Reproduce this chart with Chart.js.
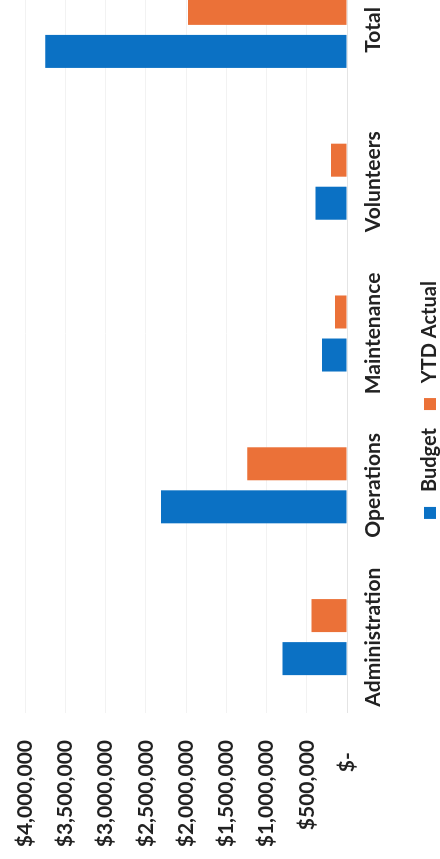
<!DOCTYPE html>
<html lang="en">
<head>
<meta charset="UTF-8">
<title>Budget vs YTD Actual</title>
<script src="https://cdn.jsdelivr.net/npm/chart.js@4.4.0/dist/chart.umd.min.js"></script>
<style>
    * {
        margin: 0;
        padding: 0;
        box-sizing: border-box;
    }

    html, body {
        width: 440px;
        height: 859px;
        overflow: hidden;
        background: #ffffff;
    }

    /* chart is laid out landscape, then turned a quarter counter-clockwise */
    .chart-wrap {
        position: absolute;
        left: 0;
        top: 0;
        width: 918px;
        height: 450px;
        transform-origin: 0 0;
        transform: translateY(859px) rotate(-90deg);
    }
</style>
</head>
<body>
<div class="chart-wrap">
    <canvas id="budgetChart" width="918" height="450"></canvas>
</div>

<script>
    const categories = ['Administration', 'Operations', 'Maintenance', 'Volunteers', 'Total'];
    const budget = [800000, 2310000, 310000, 390000, 3750000];
    const ytdActual = [440000, 1240000, 150000, 200000, 1975000];

    const tickValues = [0, 500000, 1000000, 1500000, 2000000, 2500000, 3000000, 3500000, 4000000];
    const tickLabels = ['$-\u2007', '$500,000', '$1,000,000', '$1,500,000', '$2,000,000',
                        '$2,500,000', '$3,000,000', '$3,500,000', '$4,000,000'];

    const labelFont = { family: 'Lato', size: 21, weight: 'bold' };
    const legendFont = { family: 'Lato', size: 20, weight: 'bold' };
    const textColor = '#222222';

    new Chart(document.getElementById('budgetChart'), {
        type: 'bar',
        data: {
            labels: categories,
            datasets: [
                {
                    label: 'Budget',
                    data: budget,
                    backgroundColor: '#0B71C4',
                    categoryPercentage: 0.567,
                    barPercentage: 0.767
                },
                {
                    label: 'YTD Actual',
                    data: ytdActual,
                    backgroundColor: '#EB7138',
                    categoryPercentage: 0.567,
                    barPercentage: 0.767
                }
            ]
        },
        options: {
            responsive: false,
            animation: false,
            layout: {
                padding: { top: 25, right: 13, left: 13, bottom: 0 }
            },
            plugins: {
                tooltip: { enabled: false },
                legend: {
                    position: 'bottom',
                    labels: {
                        font: legendFont,
                        color: textColor,
                        boxWidth: 12,
                        boxHeight: 12,
                        padding: 18,
                        // a little more room between swatch and text
                        generateLabels: (chart) =>
                            Chart.defaults.plugins.legend.labels.generateLabels(chart)
                                .map(item => ({ ...item, text: ' ' + item.text }))
                    }
                }
            },
            scales: {
                x: {
                    grid: { display: false, drawTicks: false },
                    border: { display: true, color: '#e4e4e4' },
                    ticks: {
                        font: labelFont,
                        color: textColor,
                        padding: 14,
                        maxRotation: 0
                    },
                    afterFit: (scale) => { scale.height = 55; }
                },
                y: {
                    min: 0,
                    max: 4000000,
                    grid: { color: '#f2f2f2', drawTicks: false },
                    border: { display: false },
                    afterBuildTicks: (scale) => {
                        scale.ticks = tickValues.map(v => ({ value: v }));
                    },
                    ticks: {
                        font: labelFont,
                        color: textColor,
                        padding: 27,
                        callback: (value, i) => tickLabels[i]
                    },
                    afterFit: (scale) => {
                        scale.width = 133;
                        // top label may sit in the layout padding
                        scale.paddingTop = 0;
                        scale.paddingBottom = 0;
                    }
                }
            }
        }
    });
</script>
</body>
</html>
